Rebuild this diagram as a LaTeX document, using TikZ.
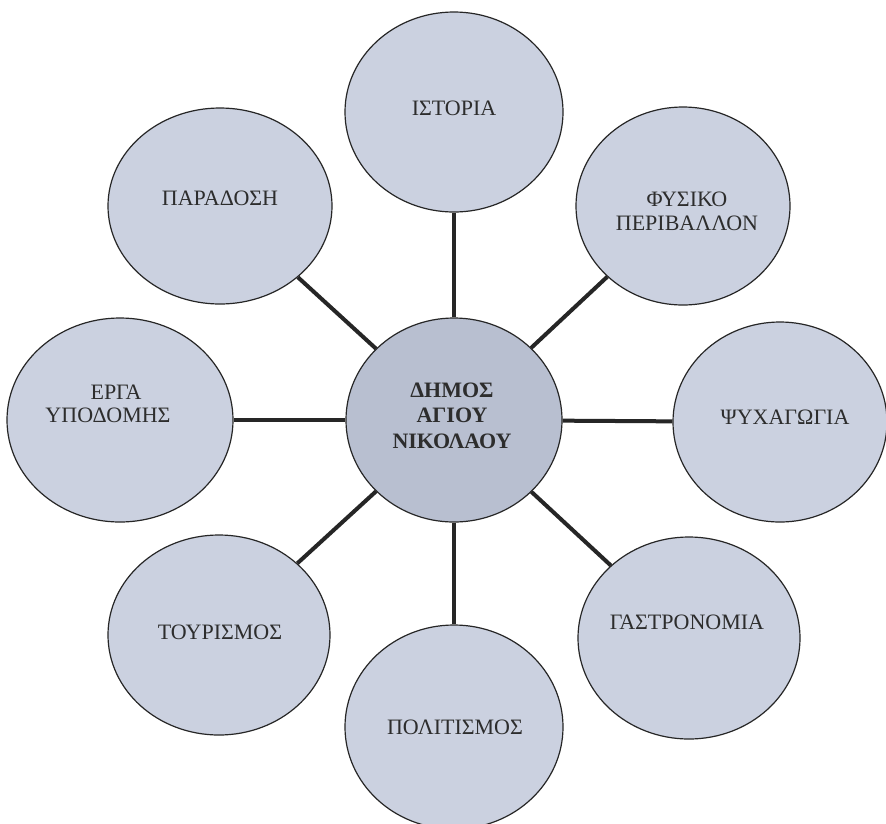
\documentclass[tikz,border=0pt]{standalone}
\usepackage{fontspec}
\setmainfont{Liberation Serif}
\usetikzlibrary{shapes.geometric}
\definecolor{bubble}{RGB}{203,209,224}
\definecolor{hubfill}{RGB}{184,191,208}
\definecolor{ink}{RGB}{38,38,38}
\definecolor{txt}{RGB}{45,45,45}
\begin{document}
\begin{tikzpicture}[x=1pt,y=-1pt,
  bub/.style={ellipse, draw=ink, line width=1.2pt, fill=bubble, inner sep=0pt},
  lbl/.style={inner sep=0pt, text=txt, font=\fontsize{22}{24}\selectfont, text height=14.4pt, text depth=0pt, anchor=center},
  hublbl/.style={lbl, font=\fontsize{22}{24}\bfseries\selectfont},
  link/.style={line width=4pt, draw=ink}]
\useasboundingbox (0,0) rectangle (886,823);
\clip (0,0) rectangle (886,823);
\fill[white] (0,0) rectangle (886,823);
% bubbles
\node[bub, fill=hubfill, minimum width=216pt, minimum height=204pt] (hub) at (454,420) {};
\node[bub, minimum width=218pt, minimum height=200pt] (ist) at (454,112) {};
\node[bub, minimum width=214pt, minimum height=198pt] (fys) at (683,206) {};
\node[bub, minimum width=214pt, minimum height=200pt] (psy) at (780,422) {};
\node[bub, minimum width=222pt, minimum height=202pt] (gas) at (689,638) {};
\node[bub, minimum width=218pt, minimum height=204pt] (pol) at (454,727) {};
\node[bub, minimum width=222pt, minimum height=200pt] (tou) at (219,635) {};
\node[bub, minimum width=226pt, minimum height=204pt] (erg) at (120,420) {};
\node[bub, minimum width=224pt, minimum height=196pt] (par) at (220,206) {};
% connectors
\foreach \n in {ist,fys,psy,gas,pol,tou,erg,par}
  \draw[link] (hub) -- (\n);
% labels
\node[hublbl] (hubA) at (452,390) {ΔΗΜΟΣ};
\node[hublbl] (hubB) at (452,415) {ΑΓΙΟΥ};
\node[hublbl] (hubC) at (452,441) {ΝΙΚΟΛΑΟΥ};
\node[lbl] (istT) at (454,108) {ΙΣΤΟΡΙΑ};
\node[lbl] (fysA) at (687,199) {ΦΥΣΙΚΟ};
\node[lbl] (fysB) at (687,223) {ΠΕΡΙΒΑΛΛΟΝ};
\node[lbl] (psyT) at (785,417) {ΨΥΧΑΓΩΓΙΑ};
\node[lbl] (gasT) at (687,622) {ΓΑΣΤΡΟΝΟΜΙΑ};
\node[lbl] (polT) at (455,727) {ΠΟΛΙΤΙΣΜΟΣ};
\node[lbl] (touT) at (220,632) {ΤΟΥΡΙΣΜΟΣ};
\node[lbl] (ergA) at (116,392) {ΕΡΓΑ};
\node[lbl] (ergB) at (108,415) {ΥΠΟΔΟΜΗΣ};
\node[lbl] (parT) at (220,198) {ΠΑΡΑΔΟΣΗ};
\end{tikzpicture}
\end{document}
